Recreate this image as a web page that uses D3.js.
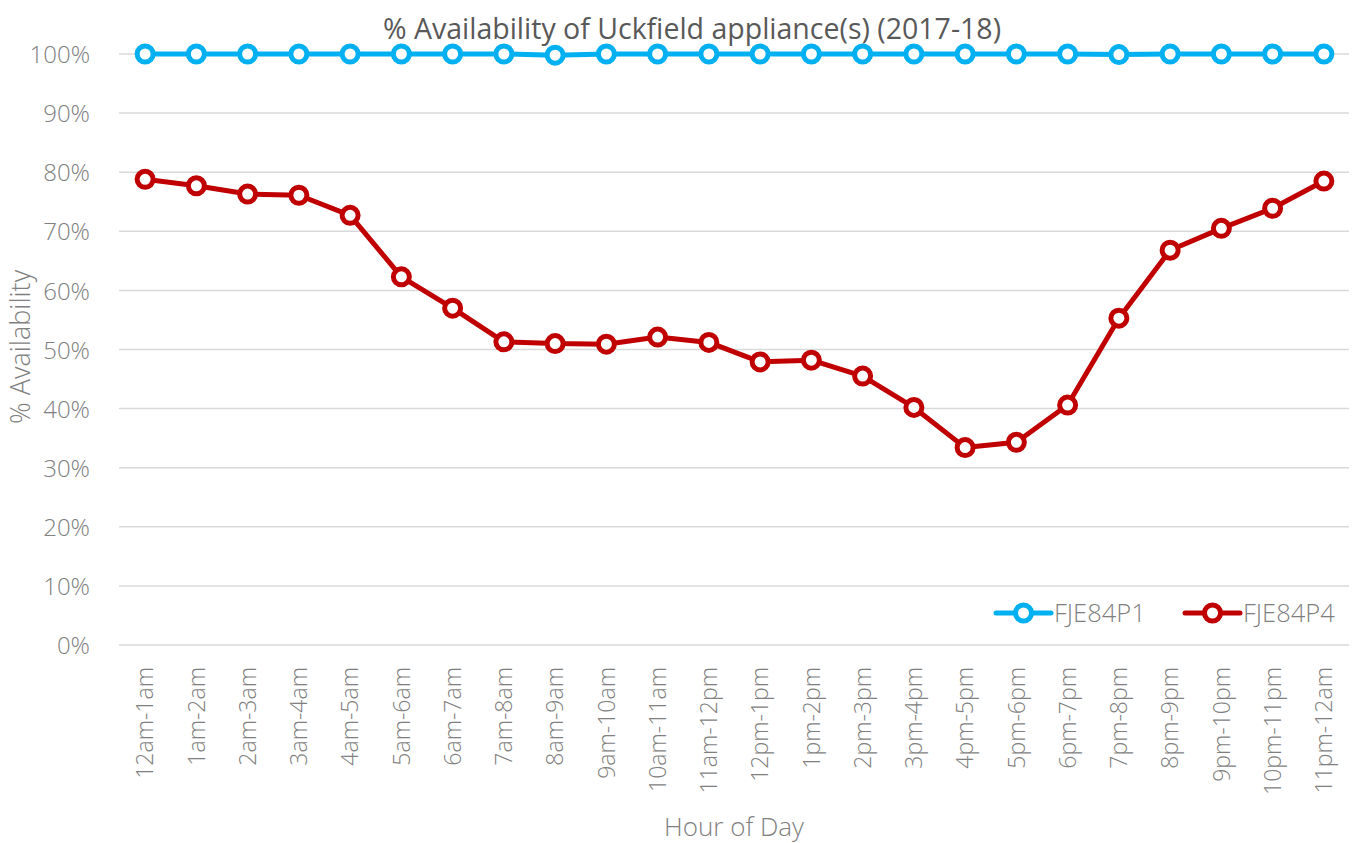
<!DOCTYPE html>
<html>
<head>
<meta charset="utf-8">
<script src="https://cdn.jsdelivr.net/npm/d3@7"></script>
<style>
  html, body { margin: 0; padding: 0; background: #fff; }
  svg { display: block; font-family: "Open Sans", "Noto Sans", sans-serif; }
</style>
</head>
<body>
<svg id="chart" width="1354" height="843"></svg>
<script>
const categories = ["12am-1am","1am-2am","2am-3am","3am-4am","4am-5am","5am-6am","6am-7am","7am-8am","8am-9am","9am-10am","10am-11am","11am-12pm","12pm-1pm","1pm-2pm","2pm-3pm","3pm-4pm","4pm-5pm","5pm-6pm","6pm-7pm","7pm-8pm","8pm-9pm","9pm-10pm","10pm-11pm","11pm-12am"];
const seriesNames = ["FJE84P1", "FJE84P4"];
const fje84p1 = [100,100,100,100,100,100,100,100,99.8,100,100,100,100,100,100,100,100,100,100,99.9,100,100,100,100];
const fje84p4 = [78.8,77.7,76.3,76.1,72.7,62.3,57.0,51.3,51.0,50.9,52.1,51.2,47.9,48.2,45.5,40.2,33.4,34.3,40.6,55.3,66.8,70.5,73.9,78.5];
const yTicks = [0,10,20,30,40,50,60,70,80,90,100];
const colors = ["#00b0f0", "#c00000"];

const FONT = '"Open Sans", "Noto Sans", sans-serif';
const svg = d3.select("#chart");
const x = d3.scaleBand().domain(categories).range([119.5, 1349.5]);
const y = d3.scaleLinear().domain([0, 100]).range([645, 54]);
const cx = d => x(d) + x.bandwidth() / 2;

// gridlines
svg.append("g").selectAll("line").data(yTicks).join("line")
  .attr("x1", 119).attr("x2", 1349)
  .attr("y1", d => y(d)).attr("y2", d => y(d))
  .attr("stroke", "#d9d9d9").attr("stroke-width", 1.5);

// y axis labels
const yAxis = d3.axisLeft(y).tickValues(yTicks).tickFormat(d => d + "%").tickSize(0).tickPadding(0);
const yg = svg.append("g").attr("transform", "translate(90,0)").call(yAxis)
  .attr("font-family", FONT).attr("font-size", 24);
yg.select(".domain").remove();
yg.selectAll("text").attr("fill", "#7f7f7f").attr("font-weight", 300).attr("dy", "0.36em");

// x axis labels
const xAxis = d3.axisBottom(x).tickSize(0).tickPadding(0);
const xg = svg.append("g").attr("transform", "translate(0,667)").call(xAxis)
  .attr("font-family", FONT).attr("font-size", 23);
xg.select(".domain").remove();
xg.selectAll("text")
  .attr("fill", "#7f7f7f").attr("font-weight", 300)
  .attr("text-anchor", "end")
  .attr("transform", "rotate(-90)")
  .attr("x", 0).attr("y", 0).attr("dy", "0.36em");

// title
svg.append("text").attr("x", 692).attr("y", 39).attr("text-anchor", "middle")
  .attr("font-family", FONT).attr("font-size", 28.5).attr("fill", "#595959").attr("font-weight", 400)
  .text("% Availability of Uckfield appliance(s) (2017-18)");

// axis titles
svg.append("text").attr("transform", "translate(30,347) rotate(-90)").attr("text-anchor", "middle")
  .attr("font-family", FONT).attr("font-size", 27).attr("fill", "#7f7f7f").attr("font-weight", 300).text("% Availability");
svg.append("text").attr("x", 734).attr("y", 836).attr("text-anchor", "middle")
  .attr("font-family", FONT).attr("font-size", 26).attr("fill", "#7f7f7f").attr("font-weight", 300).text("Hour of Day");

const line = d3.line().x((d, i) => cx(categories[i])).y(d => y(d));
[fje84p1, fje84p4].forEach((vals, si) => {
  const g = svg.append("g");
  g.append("path").datum(vals).attr("d", line).attr("fill", "none")
    .attr("stroke", colors[si]).attr("stroke-width", 5).attr("stroke-linejoin", "round");
  g.selectAll("circle").data(vals).join("circle")
    .attr("cx", (d, i) => cx(categories[i])).attr("cy", d => y(d))
    .attr("r", 8).attr("fill", "#fff").attr("stroke", colors[si]).attr("stroke-width", 5);
});

// legend
const legendX = [996, 1185];
seriesNames.forEach((name, i) => {
  const g = svg.append("g").attr("transform", `translate(${legendX[i]},613)`);
  g.append("line").attr("x1", 0).attr("x2", 55).attr("y1", 0).attr("y2", 0)
    .attr("stroke", colors[i]).attr("stroke-width", 5).attr("stroke-linecap", "round");
  g.append("circle").attr("cx", 27.5).attr("cy", 0).attr("r", 8)
    .attr("fill", "#fff").attr("stroke", colors[i]).attr("stroke-width", 5);
  g.append("text").attr("x", 58).attr("y", 0).attr("dy", "0.36em")
    .attr("font-family", FONT).attr("font-size", 25.5).attr("fill", "#7f7f7f").attr("font-weight", 300).text(name);
});
</script>
</body>
</html>
